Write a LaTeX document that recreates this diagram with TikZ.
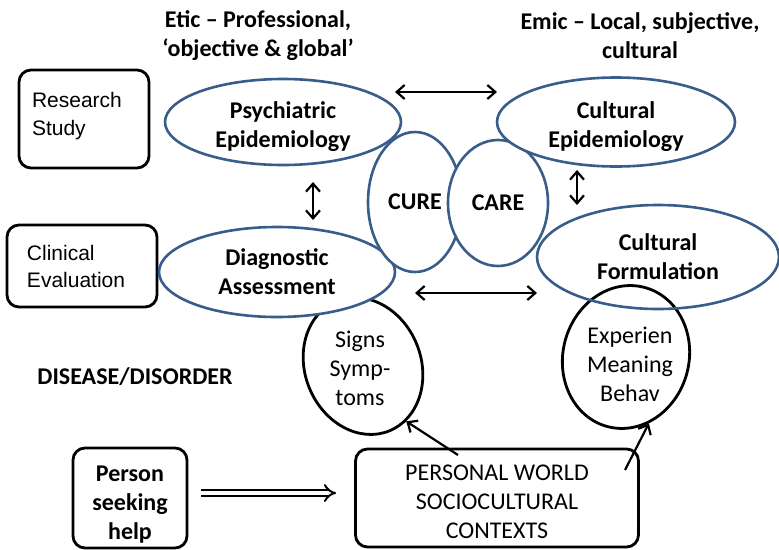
\documentclass[tikz,border=0pt]{standalone}
\usepackage{fontspec}
\setmainfont{Carlito}
\newfontfamily\arialfont{Liberation Sans}
\usepackage{tikz}
\usetikzlibrary{shapes.geometric, arrows.meta}
\definecolor{ceBlue}{RGB}{56,93,138}

\begin{document}
\begin{tikzpicture}[x=1pt, y=-1pt,
    every node/.style={font=\fontsize{24}{29}\selectfont},
    bubble/.style={draw=ceBlue, line width=2.6pt, ellipse, fill=white, inner sep=0pt, align=center, font=\fontsize{24}{29}\selectfont\bfseries},
    ring/.style={draw, line width=2.8pt, ellipse, inner sep=0pt},
    roundbox/.style={draw, line width=2.8pt, rounded corners=12pt, inner sep=0pt},
    link/.style={line width=2.2pt, {Straight Barb[length=8pt,width=14pt]}-{Straight Barb[length=8pt,width=14pt]}},
    push/.style={line width=2.2pt, -{Straight Barb[length=8pt,width=14pt]}}]
      \useasboundingbox (0,0) rectangle (779,549);

      \node[font=\fontsize{24}{29}\selectfont\bfseries, align=center] (etic) at (258,36) {Etic -- Professional,\\`objective \& global'};
      \node[font=\fontsize{24}{29}\selectfont\bfseries, align=center] (emic) at (640,36) {Emic -- Local, subjective,\\cultural};

      \node[roundbox, minimum width=130pt, minimum height=98pt, text width=104pt, text depth=38pt, align=left, font=\arialfont\fontsize{21}{28}\selectfont] (research) at (84,119) {Research\\Study};
      \node[roundbox, minimum width=150pt, minimum height=82pt, text width=110pt, align=left, font=\arialfont\fontsize{21}{27}\selectfont] (clinical) at (82,266) {Clinical\\Evaluation};
      \node[font=\fontsize{24}{29}\selectfont\bfseries] (disease) at (135,377) {DISEASE/DISORDER};

      \node[ring, minimum width=116pt, minimum height=140pt, rotate=22] (signs) at (363,366) {};
      \node[align=center] (signstext) at (360,368) {Signs\\Symp-\\toms};

      \node[bubble, minimum width=236pt, minimum height=90pt] (diag) at (277,272) {Diagnostic\\Assessment};
      \node[bubble, minimum width=236pt, minimum height=86pt, text height=56pt] (psych) at (283,122) {Psychiatric\\Epidemiology};
      \node[bubble, minimum width=94pt, minimum height=140pt] (cure) at (415,202) {CURE};
      \node[bubble, minimum width=100pt, minimum height=126pt] (care) at (498,203) {CARE};
      \node[bubble, minimum width=238pt, minimum height=89pt, text height=56pt] (cultepi) at (616,122) {Cultural\\Epidemiology};

      \node[ring, minimum width=126pt, minimum height=144pt, rotate=-15] (experien) at (626,357) {};
      \node[align=center] (experientext) at (630,364) {Experien\\Meaning\\Behav};
      \node[bubble, fill=none, minimum width=242pt, minimum height=104pt] (formulation) at (658,257) {Cultural\\Formulation};

      \node[roundbox, minimum width=114pt, minimum height=100pt, text height=86pt, align=center, font=\fontsize{24}{29}\selectfont\bfseries] (person) at (130,498) {Person\\seeking\\help};
      \node[roundbox, minimum width=283pt, minimum height=98pt, text height=82pt, align=center] (world) at (497,498) {PERSONAL WORLD\\SOCIOCULTURAL\\CONTEXTS};

      % free arrow ends
      \coordinate (topl) at (395,92);
      \coordinate (topr) at (497,92);
      \coordinate (midl) at (415,293);
      \coordinate (midr) at (537,293);
      \coordinate (psychlow) at (313,182);
      \coordinate (diagtop) at (313,220);
      \coordinate (cultlow) at (577,170);
      \coordinate (formtop) at (577,205);
      \coordinate (worldl) at (458,455);
      \coordinate (worldr) at (625,470);

      \draw[link] (topl) -- (topr);
      \draw[link] (midl) -- (midr);
      \draw[link] (psychlow) -- (diagtop);
      \draw[link] (cultlow) -- (formtop);
      \draw[push] (worldl) -- (signs.-74);
      \draw[push] (worldr) -- (experien.-56);
      \draw[line width=2pt, double, double distance=4pt, -{Implies}, shorten <=13pt, shorten >=18pt] ([yshift=5pt]person.east) -- ([yshift=5pt]world.west);
    \end{tikzpicture}
\end{document}
